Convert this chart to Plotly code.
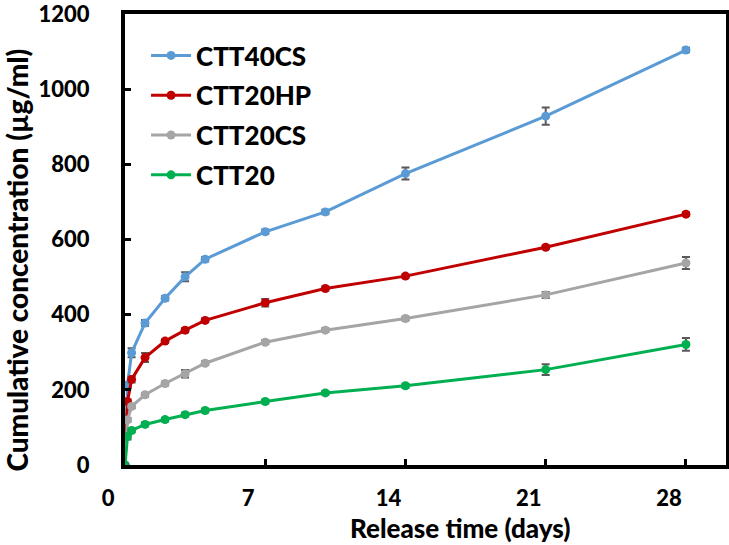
import plotly.graph_objects as go

days = [0, 0.125, 0.33, 1, 2, 3, 4, 7, 10, 14, 21, 28]

ctt40cs = [0, 213, 299, 378, 444, 501, 548, 621, 674, 776, 929, 1105]
ctt40cs_err = [0, 8, 12, 8, 6, 12, 6, 6, 6, 16, 23, 6]

ctt20hp = [0, 169, 228, 286, 330, 359, 385, 432, 470, 503, 580, 668]
ctt20hp_err = [0, 5, 8, 12, 5, 6, 5, 10, 5, 5, 5, 5]

ctt20cs = [0, 120, 156, 187, 217, 243, 271, 327, 359, 390, 453, 538]
ctt20cs_err = [0, 5, 5, 5, 5, 10, 5, 5, 5, 5, 8, 16]

ctt20 = [0, 76, 92, 108, 121, 134, 145, 169, 192, 211, 254, 321]
ctt20_err = [0, 8, 5, 5, 5, 5, 5, 5, 5, 5, 14, 17]

series_names = ["CTT40CS", "CTT20HP", "CTT20CS", "CTT20"]
colors = ["#5B9BD5", "#C00000", "#A5A5A5", "#00B050"]
values = [ctt40cs, ctt20hp, ctt20cs, ctt20]
errors = [ctt40cs_err, ctt20hp_err, ctt20cs_err, ctt20_err]

x_ticks = [0, 7, 14, 21, 28]
y_ticks = [0, 200, 400, 600, 800, 1000, 1200]

FONT = "Lato"

fig = go.Figure()
for name, y, err, c in zip(series_names, values, errors, colors):
    fig.add_trace(go.Scatter(
        x=days, y=y, name=name, mode="lines+markers",
        line=dict(color=c, width=3),
        marker=dict(color=c, size=9),
        error_y=dict(type="data", array=err, visible=True,
                     color="#595959", thickness=2, width=4),
        legendgroup=name,
    ))

tickfont = dict(family=FONT, size=22, color="black", weight=900)

fig.update_layout(
    width=729, height=545,
    margin=dict(l=125, r=3, t=14, b=80),
    paper_bgcolor="white", plot_bgcolor="white",
    showlegend=True,
    legend=dict(x=0.035, y=0.96, xanchor="left", yanchor="top",
                font=dict(family=FONT, size=26, color="black", weight=900),
                bgcolor="rgba(0,0,0,0)", tracegroupgap=3,
                itemwidth=40),
    xaxis=dict(range=[0, 30], tickvals=x_ticks, ticktext=[str(v) for v in x_ticks],
               ticks="inside", ticklen=6, tickwidth=3, tickcolor="black",
               showline=True, linewidth=4, linecolor="black", mirror=True,
               showgrid=False, zeroline=False, tickfont=tickfont,
               ticklabelshift=-17, ticklabelstandoff=11, automargin=False,
               ticklabeloverflow="allow"),
    yaxis=dict(range=[0, 1201], tickvals=y_ticks,
               ticks="inside", ticklen=6, tickwidth=3, tickcolor="black",
               showline=True, linewidth=4, linecolor="black", mirror=True,
               showgrid=False, zeroline=False, tickfont=tickfont,
               ticklabelstandoff=27, automargin=False,
               ticklabeloverflow="allow"),
    annotations=[
        dict(text="Cumulative concentration (µg/ml)", textangle=-90,
             xref="paper", yref="paper", x=-0.18, y=0.455,
             xanchor="center", yanchor="middle", showarrow=False,
             font=dict(family=FONT, size=28, color="black", weight=900)),
        dict(text="Release time (days)",
             xref="paper", yref="paper", x=0.558, y=-0.14,
             xanchor="center", yanchor="middle", showarrow=False,
             font=dict(family=FONT, size=26, color="black", weight=900)),
    ],
)

fig.write_html("out.html", config={"displayModeBar": False},
               post_script="document.body.style.margin='0';document.body.style.padding='0';")
